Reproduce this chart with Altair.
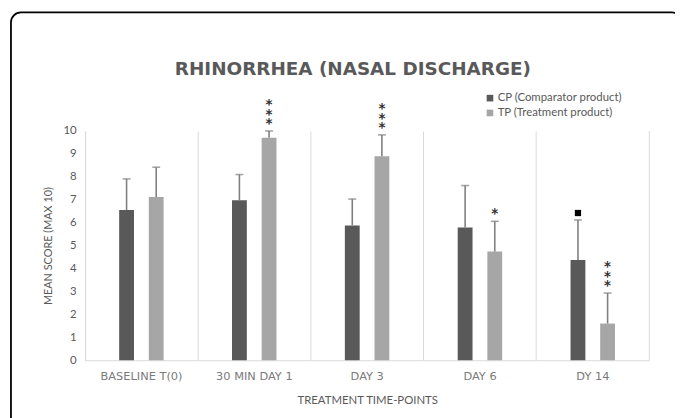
import altair as alt
import pandas as pd

categories = ["BASELINE T(0)", "30 MIN DAY 1", "DAY 3", "DAY 6", "DY 14"]
series = ["CP (Comparator product)", "TP (Treatment product)"]
cp_mean = [6.55, 6.98, 5.88, 5.79, 4.37]
cp_err = [1.36, 1.12, 1.15, 1.83, 1.75]
tp_mean = [7.12, 9.71, 8.90, 4.74, 1.60]
tp_err = [1.30, 0.29, 0.93, 1.32, 1.33]
cp_square = [0, 0, 0, 0, 1]
tp_stars = [0, 3, 3, 1, 3]
title_text = "RHINORRHEA  (NASAL DISCHARGE)"

rows, stars, squares = [], [], []
for i, c in enumerate(categories):
    cp_top = round(cp_mean[i] + cp_err[i], 2)
    tp_top = round(tp_mean[i] + tp_err[i], 2)
    rows.append({"cat": c, "series": series[0], "mean": cp_mean[i], "top": cp_top})
    rows.append({"cat": c, "series": series[1], "mean": tp_mean[i], "top": tp_top})
    if cp_square[i]:
        squares.append({"cat": c, "series": series[0], "top": cp_top})
    for k in range(tp_stars[i]):
        stars.append({"cat": c, "series": series[1], "top": tp_top, "k": k})
df = pd.DataFrame(rows)
df_stars = pd.DataFrame(stars)
df_sq = pd.DataFrame(squares)

FONT = "Lato"
GRAY = "#595959"

x = alt.X("cat:N", sort=categories, title="TREATMENT TIME-POINTS",
          scale=alt.Scale(paddingInner=0, paddingOuter=0),
          axis=alt.Axis(labelAngle=0, grid=True, bandPosition=0, gridColor="#d9d9d9",
                        domainColor="#d9d9d9", ticks=False, labelPadding=10,
                        labelFont="DejaVu Sans", labelFontSize=11.5, labelColor="#7a7a7a",
                        titleFont=FONT, titleFontSize=11.5, titleColor=GRAY,
                        titleFontWeight="normal", titlePadding=13))
xo = alt.XOffset("series:N", sort=series,
                 scale=alt.Scale(paddingInner=0.5, paddingOuter=0, range=[34.5, 79.5]))
y_scale = alt.Scale(domain=[0, 10])
y_axis = alt.Axis(values=list(range(0, 11)), grid=False, ticks=False, labelOverlap=False,
                  domainColor="#d9d9d9", labelPadding=9, labelFont=FONT,
                  labelFontSize=11.5, labelColor=GRAY, titleFont=FONT,
                  titleFontSize=11, titleColor=GRAY, titleFontWeight="normal",
                  titlePadding=10)
y_title = "MEAN SCORE (MAX 10)"

bars = alt.Chart(df).mark_bar().encode(
    x=x, xOffset=xo,
    y=alt.Y("mean:Q", scale=y_scale, title=y_title, axis=y_axis),
    color=alt.Color("series:N", sort=series,
                    scale=alt.Scale(domain=series, range=["#595959", "#a6a6a6"]),
                    legend=alt.Legend(title=None, orient="none", legendX=404, legendY=-39,
                                      symbolType="square", symbolSize=45,
                                      symbolStrokeWidth=0, labelFont=FONT,
                                      labelFontSize=11.5, labelColor=GRAY,
                                      rowPadding=2, labelOffset=2)),
)

err = alt.Chart(df).mark_rule(color="#7f7f7f", strokeWidth=1.6).encode(
    x=x, xOffset=xo, y=alt.Y("mean:Q", scale=y_scale, title=y_title, axis=y_axis),
    y2="top:Q")
caps = alt.Chart(df).mark_tick(color="#7f7f7f", thickness=1.6, size=8,
                               orient="horizontal").encode(
    x=x, xOffset=xo, y=alt.Y("top:Q", scale=y_scale, title=y_title, axis=y_axis))
star_layers = []
for k in range(3):
    star_layers.append(
        alt.Chart(df_stars).transform_filter(alt.datum.k == k).mark_text(
            text="*", baseline="bottom", fontSize=13.5, fontWeight="bold",
            color="#333333", font="DejaVu Sans", dy=-9.5 * k).encode(
            x=x, xOffset=xo,
            y=alt.Y("top:Q", scale=y_scale, title=y_title, axis=y_axis)))
sq_marks = alt.Chart(df_sq).mark_point(shape="square", filled=True, size=40,
                                       color="black", opacity=1).encode(
    x=x, xOffset=xo, y=alt.Y("top:Q", scale=y_scale, title=y_title, axis=y_axis),
    yOffset=alt.value(-7))

one = pd.DataFrame({"k": [0]})
right_edge = alt.Chart(one).mark_rule(color="#d9d9d9").encode(
    x=alt.value(571), y=alt.value(0), y2=alt.value(232))
border = alt.Chart(one).mark_rect(fillOpacity=0, stroke="black", strokeWidth=1.8,
                                  cornerRadius=10).encode(
    x=alt.value(-75), x2=alt.value(604), y=alt.value(-120), y2=alt.value(320))
title = alt.Chart(one).mark_text(text=title_text, font="DejaVu Sans", fontSize=18.6,
                                 fontWeight="bold", color=GRAY, baseline="middle",
                                 align="center").encode(
    x=alt.value(271), y=alt.value(-63))

chart = alt.layer(right_edge, bars, err, caps, *star_layers, sq_marks, border, title).properties(
    width=571, height=232,
    autosize=alt.AutoSizeParams(type="none"),
    padding={"left": 78, "top": 122, "right": 26, "bottom": 56},
    background="white",
).configure_view(stroke=None)

chart.save("out.html", embed_options={"renderer": "svg", "actions": False})
